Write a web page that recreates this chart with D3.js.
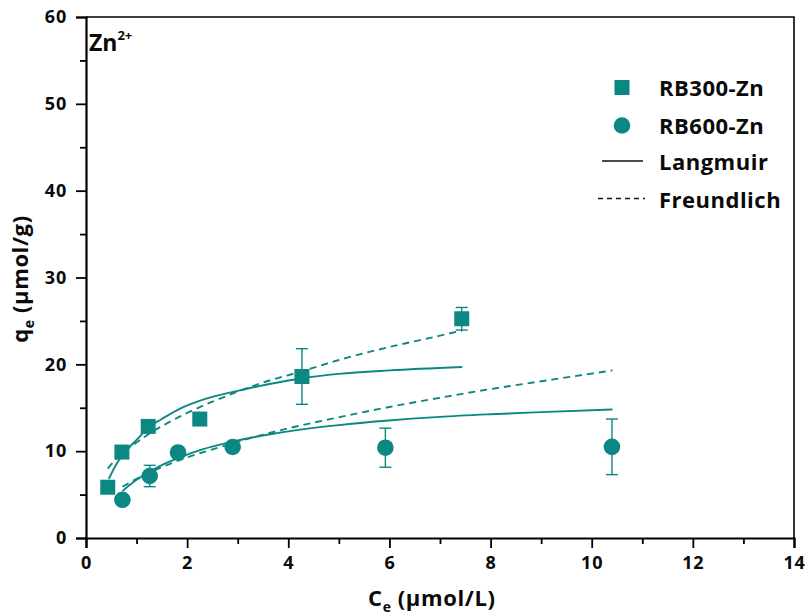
<!DOCTYPE html>
<html>
<head>
<meta charset="utf-8">
<script src="https://cdn.jsdelivr.net/npm/d3@7"></script>
<style>
  html, body { margin: 0; padding: 0; background: #fff; }
  svg { display: block; font-family: "Open Sans", "DejaVu Sans", sans-serif; font-weight: bold; }
</style>
</head>
<body>
<svg id="chart" width="812" height="616"></svg>
<script>
// Measured adsorption data (Ce in µmol/L, qe in µmol/g)
const rb300Ce  = [0.43, 0.71, 1.23, 2.25, 4.27, 7.43];
const rb300Qe  = [5.85, 9.9, 12.85, 13.7, 18.6, 25.25];
const rb300Err = [0, 0, 0, 0, 3.2, 1.3];

const rb600Ce  = [0.72, 1.26, 1.82, 2.9, 5.92, 10.4];
const rb600Qe  = [4.4, 7.14, 9.85, 10.48, 10.4, 10.5];
const rb600Err = [0, 1.23, 0, 0, 2.25, 3.2];

// Fitted isotherm curves, sampled along Ce
const rb300LangCe = [0.45, 0.6, 0.8, 1.0, 1.25, 1.5, 1.86, 2.3, 3.04, 3.6, 4.27, 5.0, 6.0, 7.44];
const rb300LangQe = [6.8, 8.5, 10.1, 11.3, 12.8, 13.7, 14.9, 15.9, 17.0, 17.7, 18.4, 18.9, 19.3, 19.7];
const rb300FreuCe = [0.43, 0.6, 0.8, 1.0, 1.25, 1.6, 2.0, 2.5, 3.0, 3.5, 4.27, 5.0, 6.0, 7.0, 7.44];
const rb300FreuQe = [8.0, 9.1, 10.15, 11.0, 12.0, 13.2, 14.4, 15.7, 16.85, 17.9, 19.2, 20.5, 22.0, 23.3, 23.9];

const rb600LangCe = [0.72, 1.0, 1.26, 1.5, 1.82, 2.3, 2.9, 3.5, 4.2, 5.0, 5.92, 7.0, 8.0, 9.0, 10.41];
const rb600LangQe = [5.4, 6.7, 7.65, 8.4, 9.2, 10.2, 11.1, 11.8, 12.45, 13.0, 13.5, 13.95, 14.25, 14.5, 14.8];
const rb600FreuCe = [0.72, 1.0, 1.26, 1.5, 1.82, 2.3, 2.9, 3.5, 4.2, 5.0, 5.92, 7.0, 8.0, 9.0, 10.41];
const rb600FreuQe = [5.9, 6.8, 7.55, 8.15, 8.9, 9.85, 10.9, 11.9, 12.9, 13.9, 15.0, 16.15, 17.15, 18.05, 19.3];

// Axis ticks
const xTicks = [0, 2, 4, 6, 8, 10, 12, 14];
const xMinor = [1, 3, 5, 7, 9, 11, 13];
const yTicks = [0, 10, 20, 30, 40, 50, 60];
const yMinor = [5, 15, 25, 35, 45, 55];

const legendLabels = ["RB300-Zn", "RB600-Zn", "Langmuir", "Freundlich"];

const teal = "#0b8884";
const ink = "#0a0a0a";
const svg = d3.select("#chart");

const x = d3.scaleLinear().domain([0, 14]).range([86, 794]);
const y = d3.scaleLinear().domain([0, 60]).range([538, 17]);

// Frame (top and right edges)
svg.append("path")
  .attr("d", `M${x(0)},${y(60)}H${x(14)}V${y(0)}`)
  .attr("fill", "none").attr("stroke", "#000").attr("stroke-width", 1.6);

// X axis
svg.append("g").attr("transform", `translate(0,${y(0)})`)
  .call(d3.axisBottom(x).tickValues(xTicks).tickSize(10).tickPadding(8).tickFormat(d3.format("d")));
svg.append("g").attr("transform", `translate(0,${y(0)})`)
  .call(d3.axisBottom(x).tickValues(xMinor).tickSize(6).tickFormat(""))
  .call(g => g.select(".domain").remove());

// Y axis
svg.append("g").attr("transform", `translate(${x(0)},0)`)
  .call(d3.axisLeft(y).tickValues(yTicks).tickSize(10).tickPadding(9).tickFormat(d3.format("d")));
svg.append("g").attr("transform", `translate(${x(0)},0)`)
  .call(d3.axisLeft(y).tickValues(yMinor).tickSize(6).tickFormat(""))
  .call(g => g.select(".domain").remove());

svg.selectAll(".domain").attr("stroke-width", 2.2).attr("stroke", "#000");
svg.selectAll(".tick line").attr("stroke-width", 1.8).attr("stroke", "#000");
svg.selectAll(".tick text")
  .attr("font-family", "'Open Sans', sans-serif")
  .attr("font-weight", "bold").attr("font-size", 18)
  .attr("letter-spacing", 0.8).attr("fill", ink);

// Axis titles
const xt = svg.append("text").attr("x", 368).attr("y", 606)
  .attr("font-size", 22).attr("letter-spacing", 0.6).attr("fill", ink);
xt.append("tspan").text("C");
xt.append("tspan").attr("font-size", 14).attr("dy", 6).text("e");
xt.append("tspan").attr("dy", -6).text(" (µmol/L)");

const yt = svg.append("text").attr("transform", "translate(28,279) rotate(-90)")
  .attr("text-anchor", "middle").attr("font-size", 22).attr("letter-spacing", 0.6).attr("fill", ink);
yt.append("tspan").text("q");
yt.append("tspan").attr("font-size", 14).attr("dy", 6).text("e");
yt.append("tspan").attr("dy", -6).text(" (µmol/g)");

// Ion label
const zn = svg.append("text").attr("x", 89).attr("y", 51).attr("font-size", 23).attr("fill", ink);
zn.append("tspan").text("Zn");
zn.append("tspan").attr("font-size", 13).attr("dy", -11).text("2+");

// Fitted curves
const line = d3.line().x(d => x(d[0])).y(d => y(d[1])).curve(d3.curveMonotoneX);
const curves = [
  [rb300LangCe, rb300LangQe, null],
  [rb300FreuCe, rb300FreuQe, "7,5"],
  [rb600LangCe, rb600LangQe, null],
  [rb600FreuCe, rb600FreuQe, "7,5"]
];
curves.forEach(([cs, qs, dash]) => {
  svg.append("path")
    .datum(d3.zip(cs, qs))
    .attr("d", line)
    .attr("fill", "none").attr("stroke", teal).attr("stroke-width", 1.9)
    .attr("stroke-dasharray", dash);
});

// Error bars
function errorBars(cs, qs, es) {
  const data = d3.zip(cs, qs, es).filter(d => d[2] > 0);
  const g = svg.append("g").attr("stroke", teal).attr("stroke-width", 1.4);
  data.forEach(([c, q, e]) => {
    g.append("line").attr("x1", x(c)).attr("x2", x(c)).attr("y1", y(q + e)).attr("y2", y(q - e));
    g.append("line").attr("x1", x(c) - 6).attr("x2", x(c) + 6).attr("y1", y(q + e)).attr("y2", y(q + e));
    g.append("line").attr("x1", x(c) - 6).attr("x2", x(c) + 6).attr("y1", y(q - e)).attr("y2", y(q - e));
  });
}
errorBars(rb300Ce, rb300Qe, rb300Err);
errorBars(rb600Ce, rb600Qe, rb600Err);

// Markers
const sq = 15;
svg.append("g").selectAll("rect").data(d3.zip(rb300Ce, rb300Qe)).join("rect")
  .attr("x", d => x(d[0]) - sq / 2).attr("y", d => y(d[1]) - sq / 2)
  .attr("width", sq).attr("height", sq).attr("fill", teal);
svg.append("g").selectAll("circle").data(d3.zip(rb600Ce, rb600Qe)).join("circle")
  .attr("cx", d => x(d[0])).attr("cy", d => y(d[1])).attr("r", 8.3).attr("fill", teal);

// Legend
const lg = svg.append("g");
lg.append("rect").attr("x", 622 - sq / 2).attr("y", 87.5 - sq / 2).attr("width", sq).attr("height", sq).attr("fill", teal);
lg.append("circle").attr("cx", 622).attr("cy", 125.5).attr("r", 8.3).attr("fill", teal);
lg.append("line").attr("x1", 602).attr("x2", 643).attr("y1", 161).attr("y2", 161)
  .attr("stroke", "#111").attr("stroke-width", 1.4);
lg.append("line").attr("x1", 598).attr("x2", 645).attr("y1", 198.5).attr("y2", 198.5)
  .attr("stroke", "#111").attr("stroke-width", 1.4).attr("stroke-dasharray", "5,4");
const ly = [96, 133.5, 170, 207.5];
lg.selectAll("text").data(legendLabels).join("text")
  .attr("x", 659).attr("y", (d, i) => ly[i])
  .attr("font-size", 22).attr("letter-spacing", 0.5).attr("fill", ink).text(d => d);
</script>
</body>
</html>
